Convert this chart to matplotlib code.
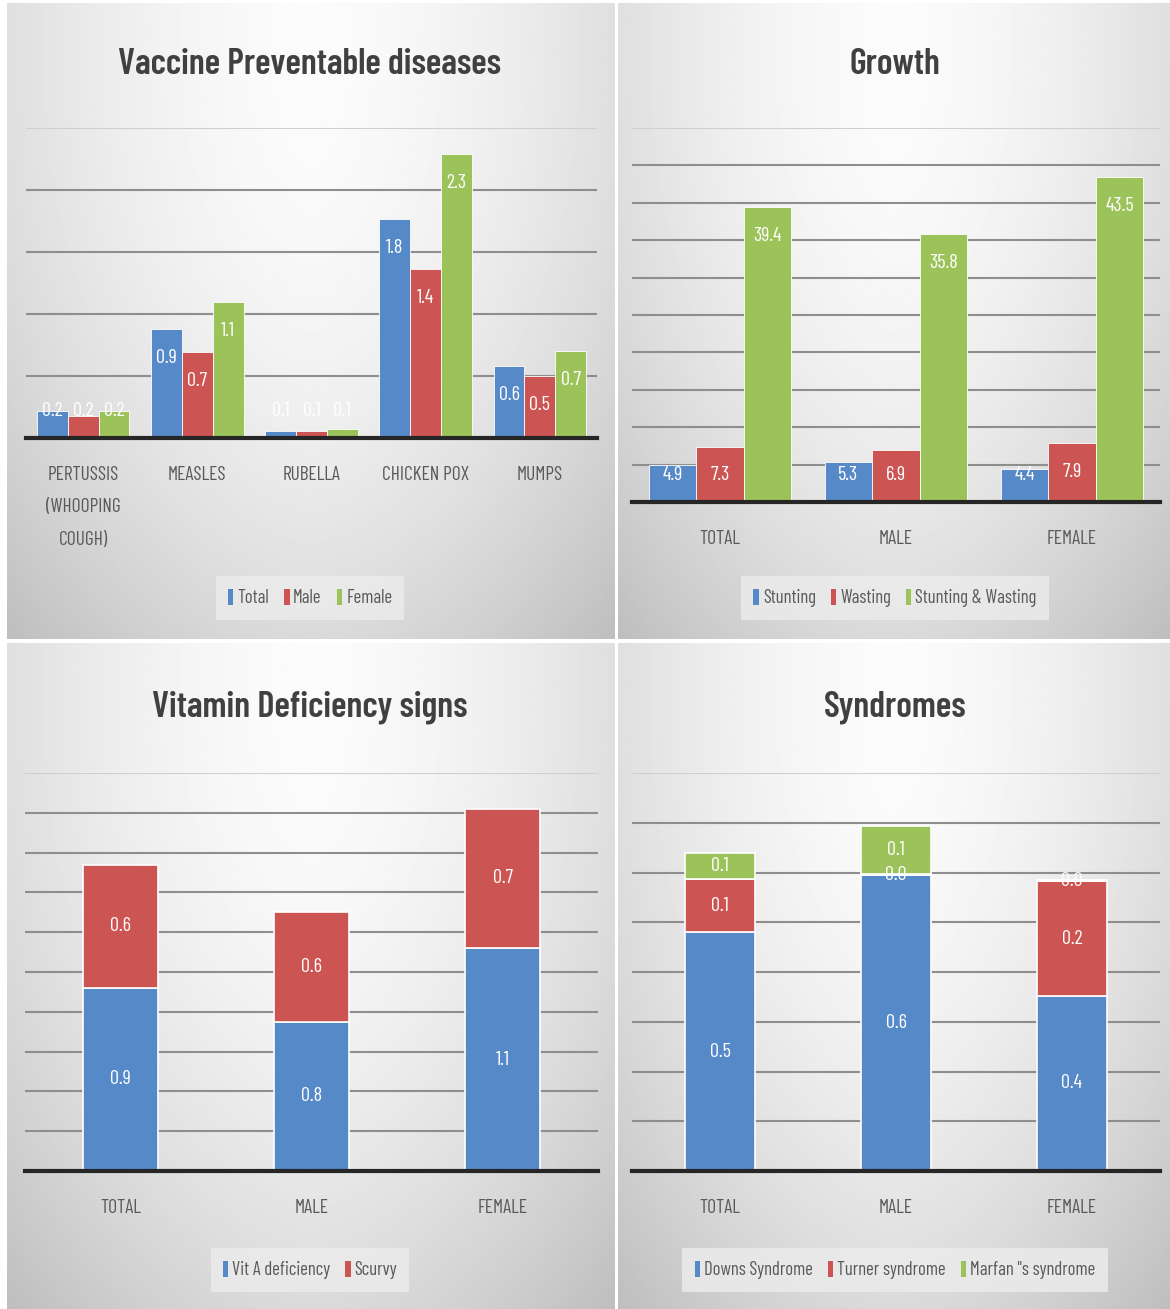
import numpy as np
import matplotlib
matplotlib.use("Agg")
import matplotlib.pyplot as plt
from matplotlib.patches import Patch
from matplotlib import font_manager

W, H = 1170, 1309

# pick a narrow face if one is installed
names = {f.name for f in font_manager.fontManager.ttflist}
FONT = ['DejaVu Sans']
for cand in ['Barlow Condensed', 'Archivo Narrow', 'Asap Condensed', 'Encode Sans Condensed']:
    if cand in names:
        FONT = [cand, 'DejaVu Sans']
        break
plt.rcParams['font.family'] = FONT

BLUE = '#5589c8'
RED = '#cc5452'
GREEN = '#9cc25a'

# --- data ---
vpd_categories = ['PERTUSSIS\n(WHOOPING\nCOUGH)', 'MEASLES', 'RUBELLA', 'CHICKEN POX', 'MUMPS']
vpd_total = [0.22, 0.88, 0.06, 1.77, 0.58]
vpd_male = [0.18, 0.69, 0.06, 1.36, 0.50]
vpd_female = [0.22, 1.10, 0.07, 2.29, 0.70]

sex_categories = ['TOTAL', 'MALE', 'FEMALE']
stunting = [4.9, 5.3, 4.4]
wasting = [7.3, 6.9, 7.9]
stunting_wasting = [39.4, 35.8, 43.5]

vit_a = [0.92, 0.75, 1.12]
scurvy = [0.62, 0.55, 0.70]

downs = [0.48, 0.594, 0.352]
turner = [0.106, 0.003, 0.23]
marfan = [0.054, 0.096, 0.003]


def rect(x0, y0, x1, y1):
    return [x0 / W, 1 - y1 / H, (x1 - x0) / W, (y1 - y0) / H]


fig = plt.figure(figsize=(W / 100, H / 100), dpi=100)
fig.patch.set_facecolor('white')


def background(x0, y0, x1, y1):
    bg = fig.add_axes(rect(x0, y0, x1, y1), zorder=0)
    xs = np.linspace(-0.5, 0.5, 300)
    ys = np.linspace(-0.1, 0.9, 300)
    X, Y = np.meshgrid(xs, ys)
    v = 0.985 - 0.11 * (np.abs(X) / 0.5) ** 1.6 - 0.13 * (np.clip(Y, 0, None) / 0.9) ** 2
    bg.imshow(v, cmap='gray', vmin=0, vmax=1, aspect='auto', extent=[0, 1, 1, 0])
    bg.set_axis_off()


def setup(ax, ymax, step, cats, pad=20):
    ax.set_facecolor('none')
    ax.set_ylim(0, ymax)
    ax.set_xlim(-0.5, len(cats) - 0.5)
    for s in ax.spines.values():
        s.set_visible(False)
    ax.set_yticks([])
    ticks = np.arange(step, ymax + step / 2, step)
    for t in ticks:
        c = '#cfcfcf' if abs(t - ymax) < 1e-9 else '#8e8e8e'
        ax.axhline(t, color=c, lw=1.5, zorder=1)
    ax.axhline(0, color='#262626', lw=3, zorder=4, clip_on=False)
    ax.set_xticks(range(len(cats)))
    ax.set_xticklabels(cats, fontsize=14, color='#595959')
    ax.tick_params(axis='x', length=0, pad=pad)
    for lbl in ax.get_xticklabels():
        lbl.set_linespacing(2.05)


def px_per_unit(ax, ymax):
    return ax.get_position().height * H / ymax


def grouped(ax, series, colors, ymax, width):
    n = len(series)
    ppu = px_per_unit(ax, ymax)
    for i, (vals, c) in enumerate(zip(series, colors)):
        x = np.arange(len(vals)) + (i - (n - 1) / 2) * width
        ax.bar(x, vals, width, color=c, edgecolor='white', linewidth=0.6, zorder=3)
        for xi, v in zip(x, vals):
            top_px = v * ppu
            off = top_px - 29 if top_px - 29 > 27 else 27
            ax.annotate(f'{v:.1f}', (xi, 0), xytext=(0, off * 0.72), textcoords='offset points',
                        ha='center', va='center', color='white', fontsize=14.5, zorder=5)


def stacked(ax, series, colors, width):
    bottom = np.zeros(len(series[0]))
    for vals, c in zip(series, colors):
        vals = np.array(vals)
        x = np.arange(len(vals))
        ax.bar(x, vals, width, bottom=bottom, color=c, edgecolor='white', linewidth=1.2, zorder=3)
        for xi, b, v in zip(x, bottom, vals):
            ax.text(xi, b + v / 2, f'{v:.1f}', ha='center', va='center', color='white',
                    fontsize=14.5, zorder=5)
        bottom += vals


def legend(ax, labels, colors, cx, cy):
    handles = [Patch(facecolor=c, edgecolor='none') for c in colors]
    ax.legend(handles, labels, loc='center', bbox_to_anchor=(cx / W, 1 - cy / H),
              bbox_transform=fig.transFigure, ncol=len(labels), frameon=True,
              facecolor='#ebebeb', edgecolor='none', framealpha=0.85, fancybox=False,
              handlelength=0.3, handleheight=1.0, handletextpad=0.2, columnspacing=0.8,
              borderpad=0.65, prop={'family': FONT, 'size': 13.5}, labelcolor='#595959')


def title(text, cx, cy):
    fig.text(cx / W, 1 - cy / H, text, ha='center', va='center', fontsize=26,
             fontweight='semibold', color='#404040')


# panel backgrounds
background(7, 3, 615, 639)
background(618, 3, 1170, 639)
background(7, 643, 615, 1309)
background(618, 643, 1170, 1309)

# Vaccine Preventable diseases
ax1 = fig.add_axes(rect(26, 128, 597, 438), zorder=2)
setup(ax1, 2.5, 0.5, vpd_categories)
grouped(ax1, [vpd_total, vpd_male, vpd_female], [BLUE, RED, GREEN], 2.5, 0.27)
legend(ax1, ['Total', 'Male', 'Female'], [BLUE, RED, GREEN], 310, 598)
title('Vaccine Preventable diseases', 310, 64)

# Growth
ax2 = fig.add_axes(rect(632, 128, 1160, 502), zorder=2)
setup(ax2, 50, 5, sex_categories)
grouped(ax2, [stunting, wasting, stunting_wasting], [BLUE, RED, GREEN], 50, 0.27)
legend(ax2, ['Stunting', 'Wasting', 'Stunting & Wasting'], [BLUE, RED, GREEN], 895, 598)
title('Growth', 895, 64)

# Vitamin Deficiency signs
ax3 = fig.add_axes(rect(25, 773, 598, 1171), zorder=2)
setup(ax3, 2.0, 0.2, sex_categories)
stacked(ax3, [vit_a, scurvy], [BLUE, RED], 0.39)
legend(ax3, ['Vit A deficiency', 'Scurvy'], [BLUE, RED], 310, 1270)
title('Vitamin Deficiency signs', 310, 707)

# Syndromes
ax4 = fig.add_axes(rect(632, 773, 1160, 1171), zorder=2)
setup(ax4, 0.8, 0.1, sex_categories)
stacked(ax4, [downs, turner, marfan], [BLUE, RED, GREEN], 0.40)
legend(ax4, ['Downs Syndrome', 'Turner syndrome', 'Marfan "s syndrome'], [BLUE, RED, GREEN], 895, 1270)
title('Syndromes', 895, 707)

fig.savefig('out.png', dpi=100)
